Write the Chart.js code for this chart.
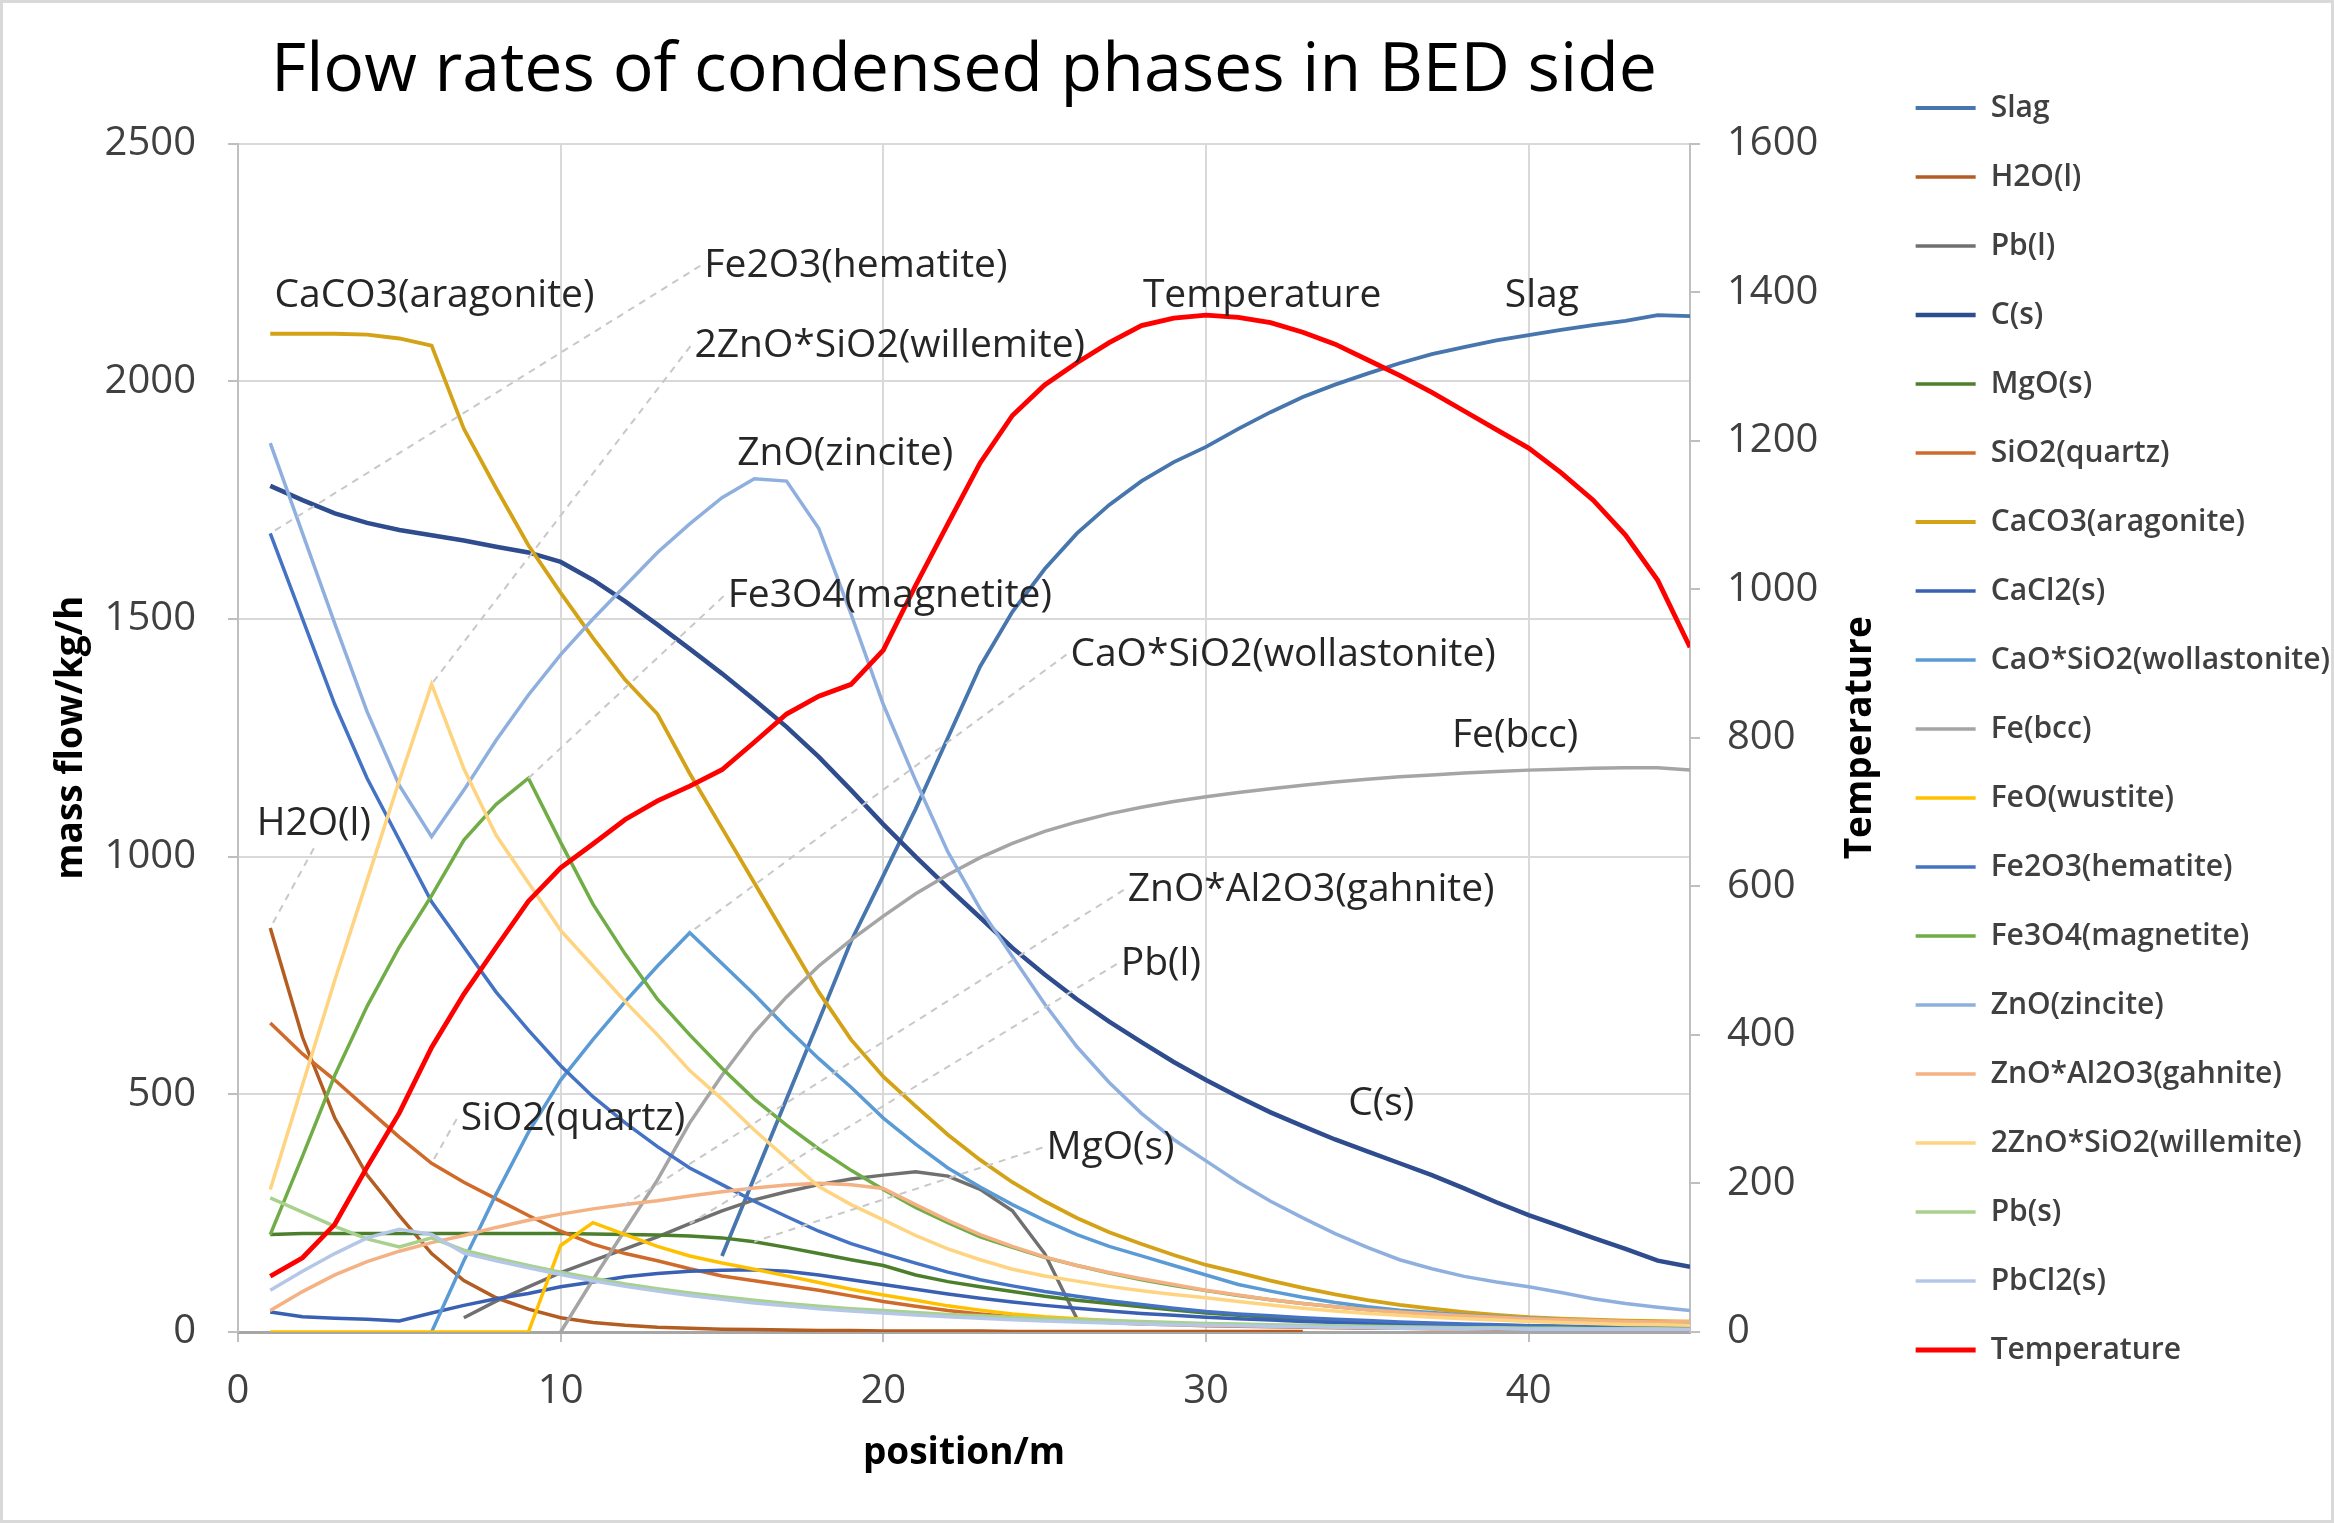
<!DOCTYPE html>
<html>
<head>
<meta charset="utf-8">
<script src="https://cdn.jsdelivr.net/npm/chart.js@4.4.1/dist/chart.umd.min.js"></script>
<style>
  html, body { margin: 0; padding: 0; background: #fff; }
</style>
</head>
<body>
<canvas id="myChart" width="2334" height="1523" style="width:2334px;height:1523px"></canvas>
<script>
// position along the bed (m)
const positions = [1, 2, 3, 4, 5, 6, 7, 8, 9, 10, 11, 12, 13, 14, 15, 16, 17, 18, 19, 20,
  21, 22, 23, 24, 25, 26, 27, 28, 29, 30, 31, 32, 33, 34, 35, 36, 37, 38, 39, 40, 41, 42, 43, 44, 45];

// mass flows, kg/h (null = phase not present)
const slag = [null, null, null, null, null, null, null, null, null, null, null, null, null, null,
  160, 325, 490, 655, 822, 960, 1100, 1250, 1400, 1515, 1605, 1680, 1740, 1790, 1830, 1862,
  1900, 1935, 1967, 1993, 2016, 2038, 2057, 2072, 2086, 2097, 2108, 2118, 2127, 2139, 2137];
const h2oL = [850, 620, 450, 330, 245, 165, 108, 72, 48, 30, 20, 14, 10, 8, 6, 5, 4, 3, 3, 2,
  2, 2, 2, 1, 1, 1, 1, 1, 1, 1, 1, 1, 1, null, null, null, null, null, null, null, null, null, null, null, null];
const pbL = [null, null, null, null, null, null, 30, 65, 95, 125, 150, 175, 200, 228, 255, 278, 295, 310, 322, 330,
  337, 328, 300, 255, 165, 28, null, null, null, null, null, null, null, null, null, null, null, null, null, null, null, null, null, null, null];
const cS = [1780, 1750, 1722, 1702, 1687, 1676, 1665, 1652, 1640, 1620, 1582, 1537, 1488, 1437, 1385, 1330, 1273, 1210, 1140, 1068,
  1000, 935, 872, 808, 752, 700, 653, 610, 568, 530, 495, 462, 433, 405, 380, 355, 330, 302, 273, 246, 222, 198, 175, 150, 137];
const mgoS = [205, 207, 207, 207, 207, 207, 207, 207, 207, 207, 206, 205, 204, 202, 198, 190, 178, 165, 152, 140,
  120, 106, 95, 85, 75, 67, 60, 53, 46, 40, 35, 31, 27, 24, 21, 19, 17, 15, 14, 13, 12, 11, 11, 10, 10];
const sio2 = [650, 585, 530, 470, 410, 355, 315, 280, 245, 212, 185, 165, 150, 133, 118, 108, 98, 88, 76, 64,
  54, 45, 38, 32, 27, 23, 20, 17, 15, 13, 12, 11, 10, 9, 8, 8, 7, 7, 6, 6, 6, 5, 5, 5, 5];
const caco3 = [2100, 2100, 2100, 2098, 2090, 2075, 1900, 1775, 1655, 1555, 1460, 1372, 1300, 1175, 1060, 945, 830, 715, 615, 537,
  475, 415, 362, 315, 275, 240, 210, 185, 162, 141, 125, 108, 93, 79, 67, 57, 49, 42, 36, 31, 28, 26, 24, 23, 22];
const cacl2 = [42, 32, 29, 27, 23, 40, 56, 70, 81, 95, 105, 116, 123, 128, 130, 131, 128, 120, 110, 100,
  90, 80, 71, 63, 56, 50, 44, 39, 35, 31, 28, 25, 22, 20, 18, 16, 14, 13, 12, 11, 10, 9, 8, 8, 7];
const wollastonite = [null, null, null, null, null, 0, 150, 290, 420, 530, 615, 695, 770, 840, 775, 710, 640, 575, 515, 450,
  395, 345, 305, 268, 235, 205, 180, 160, 140, 120, 100, 86, 73, 62, 53, 46, 41, 36, 32, 29, 26, 23, 21, 19, 18];
const feBcc = [null, null, null, null, null, null, null, null, null, 0, 110, 215, 320, 440, 540, 630, 705, 770, 825, 875,
  922, 962, 998, 1028, 1053, 1073, 1090, 1104, 1116, 1126, 1135, 1143, 1150, 1157, 1163, 1168, 1172, 1176, 1179, 1182, 1184, 1186, 1187, 1187, 1182];
const feo = [0, 0, 0, 0, 0, 0, 0, 0, 0, 182, 230, 205, 180, 160, 145, 132, 118, 104, 90, 78,
  67, 55, 46, 38, 32, 28, 24, 20, 17, 15, 14, 13, 12, 11, 10, 9, 9, 8, 8, 7, 7, 7, 6, 6, 6];
const fe2o3 = [1680, 1500, 1320, 1165, 1035, 905, 810, 715, 635, 560, 495, 440, 390, 345, 310, 275, 243, 212, 186, 165,
  145, 126, 110, 97, 85, 75, 66, 58, 50, 43, 38, 34, 30, 27, 24, 21, 19, 17, 15, 13, 12, 11, 10, 9, 8];
const fe3o4 = [205, 370, 540, 685, 810, 918, 1035, 1110, 1165, 1030, 900, 795, 700, 625, 555, 490, 435, 385, 340, 300,
  262, 230, 200, 178, 157, 140, 124, 110, 98, 87, 77, 68, 60, 53, 47, 42, 37, 33, 29, 26, 23, 21, 19, 17, 16];
const zno = [1870, 1680, 1490, 1305, 1150, 1042, 1140, 1245, 1340, 1425, 1500, 1570, 1640, 1700, 1755, 1795, 1790, 1690, 1510, 1320,
  1160, 1010, 890, 790, 690, 600, 525, 460, 405, 360, 315, 275, 240, 207, 178, 152, 133, 117, 105, 95, 83, 70, 60, 52, 45];
const gahnite = [45, 85, 120, 148, 170, 188, 203, 220, 235, 248, 259, 268, 276, 286, 295, 303, 309, 313, 310, 302,
  268, 235, 205, 180, 158, 140, 125, 112, 100, 88, 78, 68, 60, 53, 47, 42, 38, 34, 31, 28, 26, 24, 22, 21, 22];
const willemite = [300, 520, 740, 950, 1160, 1363, 1185, 1045, 945, 845, 770, 695, 625, 550, 490, 425, 365, 306, 268, 236,
  203, 175, 152, 132, 118, 107, 96, 87, 79, 72, 64, 57, 50, 44, 39, 35, 31, 28, 25, 22, 20, 18, 16, 15, 14];
const pbS = [282, 252, 222, 196, 179, 198, 172, 155, 140, 126, 113, 101, 91, 82, 74, 67, 60, 54, 49, 45,
  41, 37, 34, 31, 28, 26, 24, 22, 20, 18, 17, 15, 14, 13, 12, 11, 10, 9, 9, 8, 8, 7, 7, 7, 6];
const pbcl2 = [88, 128, 165, 198, 216, 205, 166, 150, 135, 121, 108, 96, 86, 77, 69, 61, 55, 49, 44, 40,
  36, 32, 29, 26, 23, 21, 19, 17, 15, 14, 13, 12, 11, 10, 9, 8, 8, 7, 7, 6, 6, 5, 5, 5, 5];
// temperature (right axis)
const temperature = [75, 100, 145, 222, 295, 383, 455, 518, 580, 625, 657, 690, 715, 735, 757, 794, 832, 856, 872, 918,
  1005, 1088, 1170, 1234, 1275, 1305, 1332, 1355, 1365, 1369, 1366, 1359, 1346, 1330, 1309, 1288, 1265, 1240, 1215, 1190,
  1157, 1120, 1073, 1012, 922];

const seriesNames = ['Slag', 'H2O(l)', 'Pb(l)', 'C(s)', 'MgO(s)', 'SiO2(quartz)', 'CaCO3(aragonite)', 'CaCl2(s)',
  'CaO*SiO2(wollastonite)', 'Fe(bcc)', 'FeO(wustite)', 'Fe2O3(hematite)', 'Fe3O4(magnetite)', 'ZnO(zincite)',
  'ZnO*Al2O3(gahnite)', '2ZnO*SiO2(willemite)', 'Pb(s)', 'PbCl2(s)', 'Temperature'];
const seriesValues = [slag, h2oL, pbL, cS, mgoS, sio2, caco3, cacl2, wollastonite, feBcc, feo, fe2o3, fe3o4, zno,
  gahnite, willemite, pbS, pbcl2, temperature];

// styles
const seriesColors = ['#4676AD', '#B35D22', '#707070', '#2E4C8E', '#4B7F2C', '#D06A2A', '#D4A216', '#3A60B3',
  '#5B9BD5', '#A5A5A5', '#FFC000', '#4472C4', '#70AD47', '#8FB0DE', '#F4B183', '#FFD480', '#A9D18E', '#B4C7E7', '#FF0000'];
const seriesWidths = [3.8, 3.5, 3.5, 4.5, 3.5, 3.5, 3.8, 3.5, 3.5, 3.5, 3.5, 3.5, 3.5, 3.5, 3.5, 3.5, 3.5, 3.5, 4.8];

// text labels placed in data coordinates, [x, y]; tip = point the dashed leader goes to
const calloutText = ['CaCO3(aragonite)', 'Fe2O3(hematite)', '2ZnO*SiO2(willemite)', 'ZnO(zincite)', 'Fe3O4(magnetite)',
  'CaO*SiO2(wollastonite)', 'Temperature', 'Slag', 'Fe(bcc)', 'ZnO*Al2O3(gahnite)', 'Pb(l)', 'C(s)', 'MgO(s)',
  'SiO2(quartz)', 'H2O(l)'];
const calloutAt = [[6.09, 2180], [19.15, 2243], [20.2, 2074], [18.82, 1848], [20.2, 1548], [32.39, 1425], [31.74, 2180],
  [40.41, 2180], [39.58, 1253], [33.26, 930], [28.6, 774], [35.43, 479], [27.04, 388], [10.38, 448], [2.35, 1068]];
const calloutTip = [null, [1, 1680], [6, 1363], null, [9, 1165], [14, 840], null, null, null, [12, 268], [14, 228],
  null, [16, 190], [6, 355], [1, 850]];

const W = 2334, H = 1523;
const PLOT_LEFT = 238, PLOT_RIGHT = 1690, PLOT_BOTTOM = 1332;
const PAD_RIGHT = -6;
const RIGHT_TITLE_X = 1860;

Chart.defaults.font.family = "'Open Sans', sans-serif";
Chart.defaults.color = '#404040';

const datasets = seriesNames.map((name, i) => ({
  label: name,
  data: positions.map((p, j) => ({x: p, y: seriesValues[i][j]})),
  borderColor: seriesColors[i],
  backgroundColor: seriesColors[i],
  borderWidth: seriesWidths[i],
  pointRadius: 0,
  tension: 0,
  spanGaps: false,
  yAxisID: name === 'Temperature' ? 'y2' : 'y'
})).reverse();   // first dataset is drawn on top, so Temperature goes first

const calloutPlugin = {
  id: 'callouts',
  afterDatasetsDraw(chart) {
    const {ctx, scales: {x, y}} = chart;
    ctx.save();
    ctx.font = "39px 'Open Sans', sans-serif";
    ctx.textAlign = 'center';
    ctx.textBaseline = 'middle';
    calloutText.forEach((txt, i) => {
      const cx = x.getPixelForValue(calloutAt[i][0]);
      const cy = y.getPixelForValue(calloutAt[i][1]);
      const tw = ctx.measureText(txt).width;
      if (calloutTip[i]) {
        const tx = x.getPixelForValue(calloutTip[i][0]);
        const ty = y.getPixelForValue(calloutTip[i][1]);
        let bx = cx - tw / 2 - 4, by = cy;
        if (tx > cx - tw / 2) { bx = cx; by = cy + 24; }
        ctx.strokeStyle = '#C8C8C8';
        ctx.lineWidth = 2;
        ctx.setLineDash([7, 6]);
        ctx.beginPath();
        ctx.moveTo(bx, by);
        ctx.lineTo(tx, ty);
        ctx.stroke();
        ctx.setLineDash([]);
      }
      ctx.fillStyle = '#262626';
      ctx.fillText(txt, cx, cy);
    });
    ctx.restore();
  }
};

// white background, right-hand axis title (reads bottom to top) and the outer frame
const framePlugin = {
  id: 'frame',
  beforeDraw(chart) {
    const ctx = chart.ctx;
    ctx.save();
    ctx.fillStyle = '#fff';
    ctx.fillRect(0, 0, W, H);
    ctx.restore();
  },
  afterDraw(chart) {
    const ctx = chart.ctx;
    const a = chart.chartArea;
    ctx.save();
    ctx.translate(RIGHT_TITLE_X, (a.top + a.bottom) / 2);
    ctx.rotate(-Math.PI / 2);
    ctx.font = "bold 37px 'Open Sans', sans-serif";
    ctx.fillStyle = '#000';
    ctx.textAlign = 'center';
    ctx.textBaseline = 'middle';
    ctx.fillText('Temperature', 0, 0);
    ctx.restore();
    ctx.save();
    ctx.strokeStyle = '#D9D9D9';
    ctx.lineWidth = 3;
    ctx.strokeRect(1.5, 1.5, W - 3, H - 3);
    ctx.restore();
  }
};

const config = {
  type: 'line',
  data: { datasets: datasets },
  options: {
    responsive: false,
    devicePixelRatio: 1,
    animation: false,
    layout: { padding: { left: 0, top: 0, bottom: 0, right: PAD_RIGHT } },
    plugins: {
      title: {
        display: true,
        text: 'Flow rates of condensed phases in BED side',
        fullSize: false,
        color: '#000',
        font: { size: 68, weight: 'normal' },
        padding: { top: 31, bottom: 31 }
      },
      legend: {
        position: 'right',
        align: 'start',
        reverse: true,
        maxWidth: 600,
        title: { display: true, text: ' ', font: { size: 10 }, padding: { top: 42, bottom: 0 } },
        labels: {
          usePointStyle: true,
          pointStyle: 'line',
          pointStyleWidth: 60,
          padding: 39,
          color: '#404040',
          font: { size: 30, weight: '600' }
        }
      },
      tooltip: { enabled: false }
    },
    scales: {
      x: {
        type: 'linear',
        min: 0,
        max: 45,
        afterFit: s => { s.height = H - PLOT_BOTTOM; },
        ticks: { stepSize: 10, includeBounds: false, padding: 26, font: { size: 40 }, color: '#404040',
          callback: v => String(v) },
        grid: { color: '#D9D9D9', lineWidth: 2, tickLength: 10, tickColor: '#BFBFBF' },
        border: { color: '#A6A6A6', width: 3 },
        title: { display: true, text: 'position/m', color: '#000', font: { size: 37, weight: 'bold' },
          padding: { top: 0, bottom: 47 } }
      },
      y: {
        position: 'left',
        min: 0,
        max: 2500,
        afterFit: s => { s.width = PLOT_LEFT; },
        ticks: { stepSize: 500, padding: 32, font: { size: 40 }, color: '#404040', callback: v => String(v) },
        grid: { color: '#D9D9D9', lineWidth: 2, tickLength: 10, tickColor: '#BFBFBF' },
        border: { color: '#BFBFBF', width: 2 },
        title: { display: true, text: 'mass flow/kg/h', color: '#000', font: { size: 37, weight: 'bold' },
          padding: { top: 49, bottom: 0 } }
      },
      y2: {
        position: 'right',
        min: 0,
        max: 1600,
        afterFit: s => { s.width = W - PAD_RIGHT - PLOT_RIGHT - s.chart.legend.width; },
        ticks: { stepSize: 200, padding: 27, font: { size: 40 }, color: '#404040', callback: v => String(v) },
        grid: { drawOnChartArea: false, lineWidth: 2, tickLength: 10, tickColor: '#BFBFBF' },
        border: { color: '#BFBFBF', width: 2 },
        title: { display: false }
      }
    }
  },
  plugins: [framePlugin, calloutPlugin]
};

const myChart = new Chart(document.getElementById('myChart').getContext('2d'), config);
</script>
</body>
</html>
